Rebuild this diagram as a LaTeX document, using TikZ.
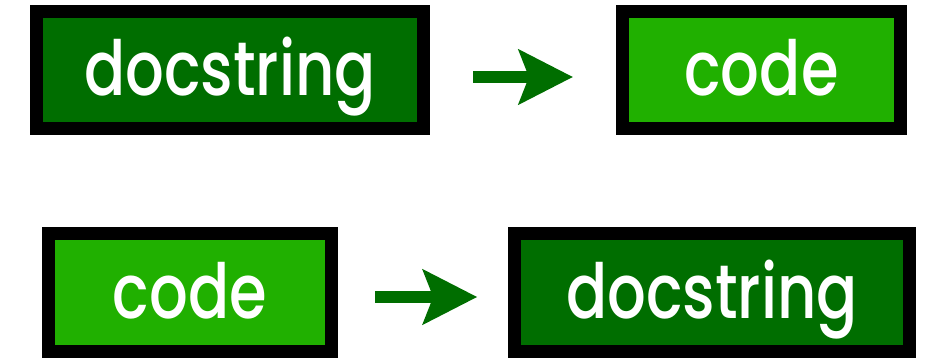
\documentclass[tikz,border=0pt]{standalone}
\usepackage{fontspec}
\newfontfamily\boxfont{Poppins}[UprightFont=* Medium, FakeStretch=0.8]
\usetikzlibrary{arrows.meta}
\definecolor{darkleaf}{RGB}{0,110,0}
\definecolor{brightleaf}{RGB}{32,176,0}

\begin{document}
\begin{tikzpicture}[
    x=1pt, y=1pt,
    docbox/.style={
        rectangle, draw=black, line width=13pt, fill=darkleaf,
        text=white, inner sep=0pt, text height=52pt, text depth=0pt,
        font=\boxfont\fontsize{76}{76}\selectfont
    },
    codebox/.style={docbox, fill=brightleaf},
    flow/.style={
        draw=darkleaf, line width=12pt,
        -{Stealth[length=54pt, width=54pt, inset=10pt]}
    }
]
\useasboundingbox (0,0) rectangle (928,-358);

\node[docbox,  minimum width=387pt,   minimum height=117pt] (doc1)  at (230,  -70)    {docstring};
\node[codebox, minimum width=278pt,   minimum height=117pt] (code1) at (761.5,-70)    {code};
\node[codebox, minimum width=283.5pt, minimum height=118pt] (code2) at (190,  -292.5) {code};
\node[docbox,  minimum width=394.5pt, minimum height=118pt] (doc2)  at (712,  -292.5) {docstring};

\draw[flow, shorten <=43pt, shorten >=43pt] ([yshift=-7pt]doc1.east)    -- ([yshift=-7pt]code1.west);
\draw[flow, shorten <=37pt, shorten >=31pt] ([yshift=-4.5pt]code2.east) -- ([yshift=-4.5pt]doc2.west);

\end{tikzpicture}
\end{document}
